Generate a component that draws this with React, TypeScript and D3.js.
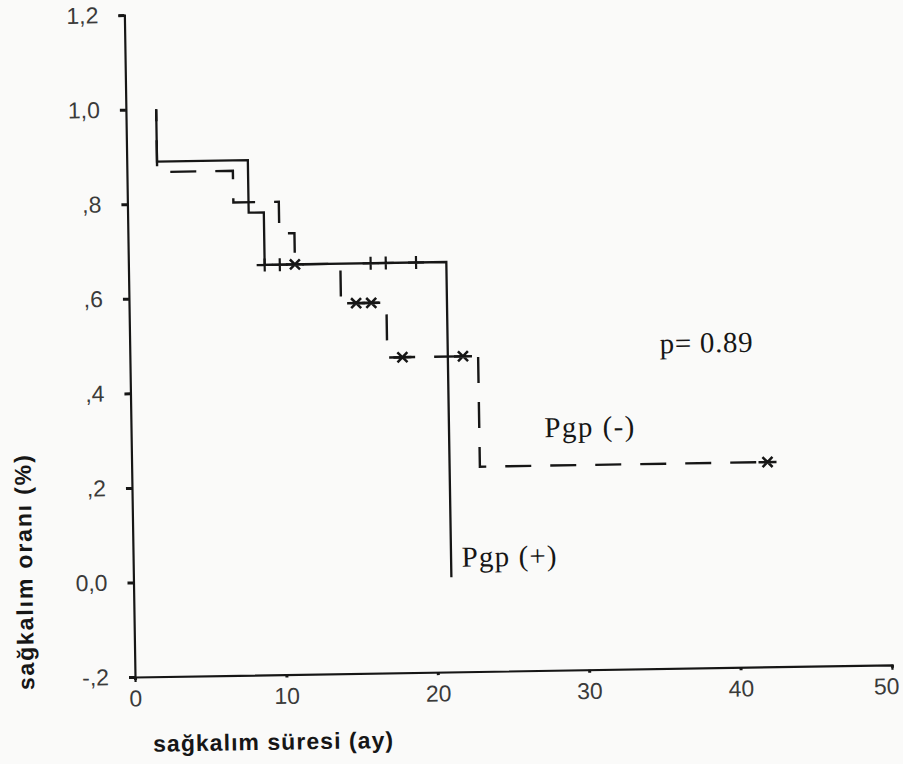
import React, { useEffect, useRef } from 'react';
import * as d3 from 'd3';

// axis ticks (the scan uses comma decimals, no leading zero)
const yTicks = [-0.2, 0, 0.2, 0.4, 0.6, 0.8, 1.0, 1.2];
const yTickLabels = ['-,2', '0,0', ',2', ',4', ',6', ',8', '1,0', '1,2'];
const xTicks = [0, 10, 20, 30, 40, 50];

// Pgp (+) : solid step line
const posTimes = [2, 2, 8, 9, 21];
const posSurv = [1.0, 0.889, 0.778, 0.667, 0.0];
const posCensored = [9, 10, 16, 17, 19];

// Pgp (-) : dashed step line
const negTimes = [2, 2, 7, 10, 11, 14, 17, 23, 42];
const negSurv = [1.0, 0.867, 0.8, 0.733, 0.667, 0.583, 0.467, 0.233, 0.233];
const negCensored = [11, 15, 16, 18, 22, 42];

const annotations = ['p= 0.89', 'Pgp (-)', 'Pgp (+)'];

const survAt = (times: number[], surv: number[], t: number) => {
    let v = surv[0];
    times.forEach((tt, i) => { if (tt <= t) v = surv[i]; });
    return v;
};

function App() {
    const ref = useRef<SVGSVGElement>(null);

    useEffect(() => {
        const W = 903, H = 764;
        const ox = 135, oy = 677, tilt = -0.92; // the scanned page is slightly rotated

        const svg = d3.select(ref.current);
        svg.selectAll('*').remove();
        svg.attr('width', W).attr('height', H);

        svg.append('rect').attr('width', W).attr('height', H).attr('fill', '#fafaf9');

        const x = d3.scaleLinear().domain([0, 50]).range([0, 757]);
        const y = d3.scaleLinear().domain([-0.2, 1.2]).range([0, -662]);

        const g = svg.append('g')
            .attr('transform', `translate(${ox},${oy}) rotate(${tilt})`);

        const ink = '#161616';

        // X axis
        const xAxis = d3.axisBottom(x)
            .tickValues(xTicks)
            .tickSize(3)
            .tickSizeOuter(5)
            .tickPadding(10)
            .tickFormat(d => String(d));
        const gx = g.append('g').call(xAxis);
        gx.select('.domain').attr('stroke', ink).attr('stroke-width', 2.2);
        gx.selectAll('.tick line').attr('stroke', ink).attr('stroke-width', 3);
        gx.selectAll('.tick text')
            .attr('font-family', 'Liberation Sans, Arial, sans-serif')
            .attr('font-size', 23)
            .attr('fill', '#3a3a3a');
        // last label sits a little left of its tick in the scan
        gx.selectAll('.tick text').filter((d: any) => d === 50).attr('x', -6);

        // Y axis
        const yAxis = d3.axisLeft(y)
            .tickValues(yTicks)
            .tickSize(6)
            .tickSizeOuter(6)
            .tickPadding(20)
            .tickFormat((d, i) => yTickLabels[i]);
        const gy = g.append('g').call(yAxis);
        gy.select('.domain').attr('stroke', ink).attr('stroke-width', 2.2);
        gy.selectAll('.tick line').attr('stroke', ink).attr('stroke-width', 3);
        gy.selectAll('.tick text')
            .attr('font-family', 'Liberation Sans, Arial, sans-serif')
            .attr('font-size', 23)
            .attr('fill', '#3a3a3a');

        const step = d3.line<number>()
            .x(d => x(d))
            .curve(d3.curveStepAfter);

        // Pgp (+)
        g.append('path')
            .attr('d', step.y((d, i) => y(posSurv[i]))(posTimes))
            .attr('fill', 'none')
            .attr('stroke', ink)
            .attr('stroke-width', 2.3);

        // Pgp (-)
        g.append('path')
            .attr('d', step.y((d, i) => y(negSurv[i]))(negTimes))
            .attr('fill', 'none')
            .attr('stroke', ink)
            .attr('stroke-width', 2.4)
            .attr('stroke-dasharray', '26,19')
            .attr('stroke-dashoffset', 14);

        // censor marks
        g.selectAll('.cplus')
            .data(posCensored)
            .enter().append('path')
            .attr('class', 'cplus')
            .attr('transform', d => `translate(${x(d)},${y(survAt(posTimes, posSurv, d))})`)
            .attr('d', 'M-8,0H8M0,-6.5V6.5')
            .attr('stroke', ink)
            .attr('stroke-width', 2.2);

        g.selectAll('.cx')
            .data(negCensored)
            .enter().append('path')
            .attr('class', 'cx')
            .attr('transform', d => `translate(${x(d)},${y(survAt(negTimes, negSurv, d))})`)
            .attr('d', 'M-9,0H9M-5,-5L5,5M-5,5L5,-5')
            .attr('stroke', ink)
            .attr('stroke-width', 2.5);

        // annotations
        const annPos = [[35.0, 0.467, 93], [27.3, 0.293, 90], [21.7, 0.022, 95]];
        annotations.forEach((txt, i) => {
            g.append('text')
                .attr('x', x(annPos[i][0]))
                .attr('y', y(annPos[i][1]))
                .attr('font-family', 'Liberation Serif, Times New Roman, serif')
                .attr('font-size', 29)
                .attr('fill', ink)
                .attr('textLength', annPos[i][2])
                .text(txt);
        });

        // axis titles
        g.append('text')
            .attr('x', 17)
            .attr('y', 75)
            .attr('font-family', 'Liberation Sans, Arial, sans-serif')
            .attr('font-weight', 'bold')
            .attr('font-size', 23)
            .attr('fill', ink)
            .attr('textLength', 240)
            .text('sağkalım süresi (ay)');

        g.append('text')
            .attr('transform', 'translate(-101,-106) rotate(-90)')
            .attr('text-anchor', 'middle')
            .attr('font-family', 'Liberation Sans, Arial, sans-serif')
            .attr('font-weight', 'bold')
            .attr('font-size', 23)
            .attr('fill', ink)
            .attr('textLength', 235)
            .text('sağkalım oranı (%)');
    }, []);

    return (
        <svg ref={ref} style={{ position: 'absolute', left: 0, top: 0, display: 'block' }} />
    );
}

export default App;
